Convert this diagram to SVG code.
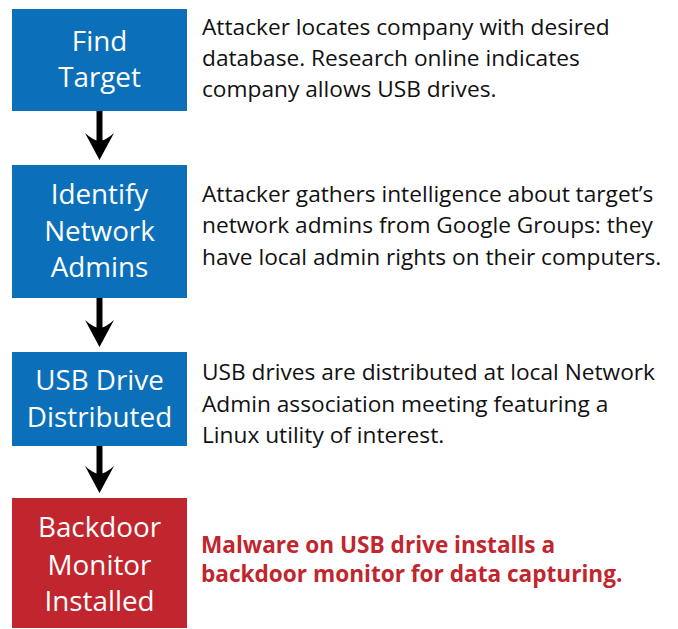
<svg xmlns="http://www.w3.org/2000/svg" width="678" height="629" viewBox="0 0 678 629">
<defs>
<style>
.box-blue{fill:#0B70B9}
.box-red{fill:#C1262E}
.lbl{font-family:"Open Sans","Liberation Sans",sans-serif;font-size:27.8px;fill:#fff;text-anchor:middle}
.desc{font-family:"Open Sans","Liberation Sans",sans-serif;font-size:22.7px;fill:#111}
.desc-red{font-family:"Open Sans","Liberation Sans",sans-serif;font-size:22.6px;font-weight:bold;fill:#C1262E}
.shaft{fill:#000}
</style>
<path id="head" d="M-14.5,0 Q-7,7 0,8 Q7,7 14.5,0 L0,27 Z"/>
</defs>
<g id="connectors" class="shaft">
<rect x="96.5" y="111" width="6" height="32"/>
<use href="#head" x="99.5" y="133"/>
<rect x="96.5" y="297" width="6" height="32"/>
<use href="#head" x="99.5" y="320"/>
<rect x="96.5" y="445" width="6" height="31"/>
<use href="#head" x="99.5" y="466"/>
</g>
<g id="node1">
<rect class="box-blue" x="12" y="9" width="175" height="102"/>
<text class="lbl" x="99.5" y="51">Find</text>
<text class="lbl" x="99.5" y="87">Target</text>
<text class="desc" x="202" y="35">Attacker locates company with desired</text>
<text class="desc" x="202" y="66">database. Research online indicates</text>
<text class="desc" x="202" y="97">company allows USB drives.</text>
</g>
<g id="node2">
<rect class="box-blue" x="12" y="165" width="175" height="133"/>
<text class="lbl" x="99.5" y="204">Identify</text>
<text class="lbl" x="99.5" y="241">Network</text>
<text class="lbl" x="99.5" y="277">Admins</text>
<text class="desc" x="202" y="202">Attacker gathers intelligence about target’s</text>
<text class="desc" x="202" y="233">network admins from Google Groups: they</text>
<text class="desc" x="202" y="265">have local admin rights on their computers.</text>
</g>
<g id="node3">
<rect class="box-blue" x="12" y="352" width="175" height="94"/>
<text class="lbl" x="99.5" y="390">USB Drive</text>
<text class="lbl" x="99.5" y="427">Distributed</text>
<text class="desc" x="202" y="380">USB drives are distributed at local Network</text>
<text class="desc" x="202" y="412">Admin association meeting featuring a</text>
<text class="desc" x="202" y="443">Linux utility of interest.</text>
</g>
<g id="node4">
<rect class="box-red" x="12" y="498" width="175" height="130"/>
<text class="lbl" x="99.5" y="537">Backdoor</text>
<text class="lbl" x="99.5" y="575">Monitor</text>
<text class="lbl" x="99.5" y="611">Installed</text>
<text class="desc-red" x="201" y="553">Malware on USB drive installs a</text>
<text class="desc-red" x="201" y="582">backdoor monitor for data capturing.</text>
</g>
</svg>
